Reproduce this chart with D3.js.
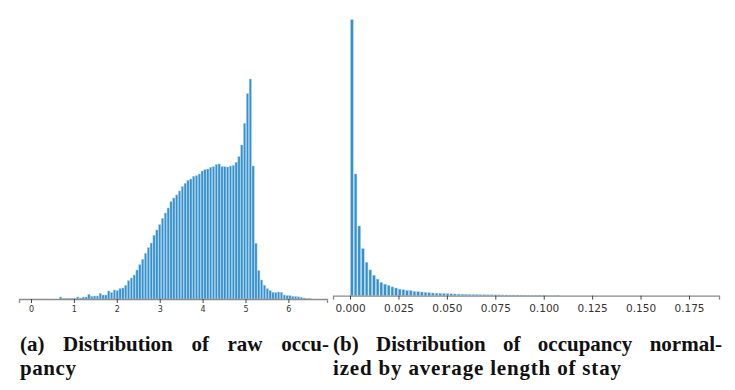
<!DOCTYPE html>
<html>
<head>
<meta charset="utf-8">
<script src="https://cdn.jsdelivr.net/npm/d3@7"></script>
<style>
  html, body { margin: 0; padding: 0; background: #fff; }
  .tick text { fill: #333; font-family: "DejaVu Sans", sans-serif; }
  .caption { font-family: "Liberation Serif", serif; font-weight: bold; fill: #111; }
</style>
</head>
<body>
<div id="mainSVG"></div>
<script>
(function(){
  'use strict';

  //----- (a) raw occupancy histogram
  var rawBinStart = 0.657,
      rawBinWidth = 0.066,
      rawCounts = [
        2, 0.5, 0.7, 0.7, 0.7, 0.7, 2, 1, 2, 2, 4.7, 2.7, 3, 3,
        5.7, 4, 4, 8, 6.3, 9, 8.3, 10.3, 11, 13.7, 18.3, 21, 24, 29, 34.3, 39.7,
        45.7, 51.3, 56, 63.7, 69, 74.3, 80.7, 86, 91, 97.3, 101, 104, 108, 112.3,
        115.7, 118.7, 120, 122.7, 123.3, 125, 128, 129.3, 130, 131.7, 132.3, 134.3,
        135, 132.3, 132.3, 132, 133, 133.7, 136.7, 142.3, 154, 175.7, 205.3, 220,
        133, 55.7, 28.3, 19, 13.7, 10.3, 8.3, 6.7, 6.3, 7,
        6.7, 4, 3.3, 3.3, 2.7, 2.5, 2.2, 1.8, 1, 0.4, 0.3
      ],
      rawTicks = [0, 1, 2, 3, 4, 5, 6];

  //----- (b) occupancy / average length of stay histogram
  var normBinStart = 0,
      normBinWidth = 0.0019,
      normCounts = [
        276, 121.7, 69.7, 47, 33.4, 25.8, 20.3, 16.6, 13.3, 11.5, 10.3, 8.8, 7.7,
        6.6, 6, 5.3, 5, 4.3, 4, 3.7, 3.3, 3, 2.7, 2.5, 2.3, 2.2, 2, 1.9, 1.7, 1.6,
        1.5, 1.4, 1.3, 1.2, 1.1, 1, 1, 0.9, 0.9, 0.8, 0.8, 0.7, 0.7, 0.6, 0.6, 0.6,
        0.5, 0.5, 0.5, 0.4, 0.4, 0.4, 0.3, 0.3, 0.2, 0.2, 0.3
      ],
      normTicks = [0, 0.025, 0.05, 0.075, 0.1, 0.125, 0.15, 0.175];

  var captionA = ['(a) Distribution of raw occu-', 'pancy'],
      captionB = ['(b) Distribution of occupancy normal-', 'ized by average length of stay'];

  var width = 735, height = 390;

  var svg = d3.select('#mainSVG').append('svg').attr('width', width).attr('height', height);

  buildHist({
    counts: rawCounts, binStart: rawBinStart, binWidth: rawBinWidth,
    domain: [-0.28, 6.9], range: [19, 327], axisY: 299, top: 79, gap: 0.6,
    ticks: rawTicks, format: d3.format('d'), fontSize: 8, padding: 3
  });

  buildHist({
    counts: normCounts, binStart: normBinStart, binWidth: normBinWidth,
    domain: [-0.0088, 0.1905], range: [333, 719], axisY: 295.7, top: 19.7, gap: 1,
    ticks: normTicks, format: d3.format('.3f'), fontSize: 10.5, padding: 5
  });

  // second line widths
  caption(captionA, 20, 329, 56);
  caption(captionB, 333, 722, 288);


  function buildHist(o) {
    var x = d3.scaleLinear().domain(o.domain).range(o.range),
        y = d3.scaleLinear().domain([0, d3.max(o.counts)]).range([o.axisY, o.top]);

    var g = svg.append('g');

    g.selectAll('rect.bar')
      .data(o.counts).enter()
      .append('rect')
      .attr('class', 'bar')
      .attr('x', function (d, i) { return x(o.binStart + i * o.binWidth) + o.gap / 2; })
      .attr('width', function (d, i) {
        return x(o.binStart + (i + 1) * o.binWidth) - x(o.binStart + i * o.binWidth) - o.gap;
      })
      .attr('y', function (d) { return y(d); })
      .attr('height', function (d) { return o.axisY - y(d); })
      .attr('fill', '#3590cb')
      .attr('stroke', '#a6d0ec')
      .attr('stroke-width', 0.5);

    var axis = g.append('g')
      .attr('transform', 'translate(0,' + o.axisY + ')')
      .call(d3.axisBottom(x).tickValues(o.ticks).tickFormat(o.format)
        .tickSizeOuter(0).tickSize(4).tickPadding(o.padding));

    axis.select('.domain').attr('stroke', '#8c8c8c').attr('stroke-width', 1.3);
    axis.selectAll('.tick line').attr('stroke', '#333').attr('stroke-width', 0.9);
    axis.selectAll('.tick text').attr('font-size', o.fontSize);
  }


  //--------- two-line caption, first line justified
  function caption(lines, x0, x1, line2Len) {
    var words = lines[0].split(' '),
        g = svg.append('g').attr('class', 'caption').attr('font-size', 21);

    var texts = g.selectAll('text.w')
      .data(words).enter()
      .append('text')
      .attr('class', 'w')
      .attr('y', 351)
      .text(function (d) { return d; });

    var widths = [];
    texts.each(function () { widths.push(this.getComputedTextLength()); });
    var space = (x1 - x0 - d3.sum(widths)) / (words.length - 1),
        pos = x0;
    texts.attr('x', function (d, i) {
      var p = pos;
      pos += widths[i] + space;
      return p;
    });

    g.append('text').attr('x', x0).attr('y', 375)
      .attr('textLength', line2Len).attr('lengthAdjust', 'spacing')
      .text(lines[1]);
  }

})();
</script>
</body>
</html>
